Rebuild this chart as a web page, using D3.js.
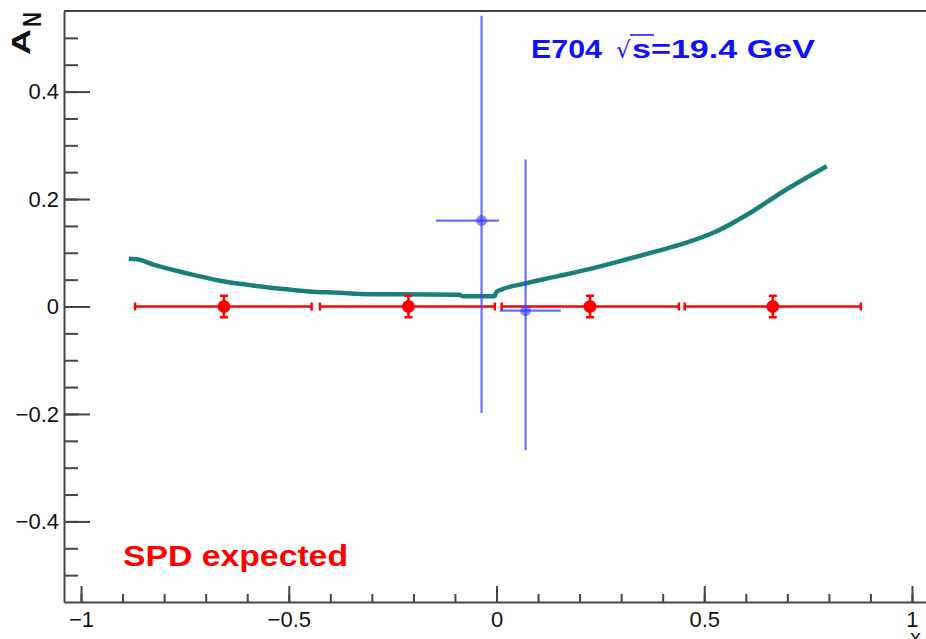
<!DOCTYPE html>
<html lang="en">
<head>
	<meta charset="utf-8">
	<title>A_N vs x: E704 and SPD expected</title>
	<script src="https://d3js.org/d3.v7.min.js"></script>
	<style type="text/css">
		body { margin: 0; background: #fff; }
		.axis path,
		.axis line {
			fill: none;
			stroke: #444;
			stroke-width: 2px;
		}
		.axis text {
			font-family: "Liberation Sans", Arial, sans-serif;
			font-size: 22px;
			fill: #111;
		}
	</style>
</head>
<body>
<script type="text/javascript">

	// Model curve (teal line)
	var curveX = [-0.885, -0.865, -0.826, -0.746, -0.665, -0.586, -0.505, -0.433, -0.393, -0.304,
	              -0.232, -0.09, -0.08, -0.005, 0.0, 0.01, 0.064, 0.145, 0.225, 0.305,
	              0.386, 0.45, 0.53, 0.61, 0.69, 0.795];
	var curveY = [0.089, 0.088, 0.078, 0.062, 0.048, 0.039, 0.032, 0.027, 0.026, 0.023,
	              0.023, 0.022, 0.019, 0.019, 0.027, 0.031, 0.042, 0.056, 0.070, 0.086,
	              0.103, 0.117, 0.140, 0.174, 0.214, 0.261];

	// SPD expected points (red)
	var spdX    = [-0.656, -0.212, 0.225, 0.665];
	var spdXLow = [-0.870, -0.425, 0.0125, 0.453];
	var spdXHigh= [-0.445, -0.004, 0.439, 0.877];
	var spdY    = [0, 0, 0, 0];
	var spdErr  = [0.02, 0.02, 0.02, 0.02];

	// E704 data points (blue)
	var e704X     = [-0.036, 0.070];
	var e704XLow  = [-0.146, 0.008];
	var e704XHigh = [0.006, 0.155];
	var e704Y     = [0.160, -0.0075];
	var e704ErrUp = [0.381, 0.281];
	var e704ErrDn = [0.358, 0.260];

	// Tick values
	var xMajor = [-1, -0.5, 0, 0.5, 1];
	var yMajor = [-0.4, -0.2, 0, 0.2, 0.4];
	var xMinor = d3.range(-10, 11).map(function(i) { return i / 10; });
	var yMinor = d3.range(-10, 11).map(function(i) { return i / 20; });

	// Canvas and frame
	var width = 926, height = 639;
	var frame = {left: 64, right: 929, top: 11, bottom: 602};

	var svg = d3.select("body")
				.append("svg")
				.attr("width", width)
				.attr("height", height);

	var xScale = d3.scaleLinear()
				.domain([-1.041, 1.041])
				.range([frame.left, frame.right]);

	var yScale = d3.scaleLinear()
				.domain([-0.55, 0.55])
				.range([frame.bottom, frame.top]);

	// Top frame line
	svg.append("line")
		.attr("x1", frame.left).attr("x2", frame.right)
		.attr("y1", frame.top).attr("y2", frame.top)
		.attr("stroke", "#444")
		.attr("stroke-width", 2);

	// Minor ticks first (no labels, no domain)
	svg.append("g")
		.attr("class", "axis")
		.attr("transform", "translate(0," + frame.bottom + ")")
		.call(d3.axisBottom(xScale).tickValues(xMinor).tickSize(-8).tickFormat(""))
		.call(function(g) { g.select(".domain").remove(); });

	svg.append("g")
		.attr("class", "axis")
		.attr("transform", "translate(" + frame.left + ",0)")
		.call(d3.axisLeft(yScale).tickValues(yMinor).tickSize(-14).tickFormat(""))
		.call(function(g) { g.select(".domain").remove(); });

	// Major axes
	var fmt = function(d) { return d === 0 ? "0" : d3.format("")(d); };

	svg.append("g")
		.attr("class", "axis")
		.attr("transform", "translate(0," + frame.bottom + ")")
		.call(d3.axisBottom(xScale).tickValues(xMajor).tickSize(-16).tickSizeOuter(0)
				.tickPadding(9).tickFormat(fmt));

	svg.append("g")
		.attr("class", "axis")
		.attr("transform", "translate(" + frame.left + ",0)")
		.call(d3.axisLeft(yScale).tickValues(yMajor).tickSize(-26).tickSizeOuter(0)
				.tickPadding(5).tickFormat(fmt));

	svg.selectAll(".axis text")
		.attr("font-family", "'Liberation Sans', Arial, sans-serif")
		.attr("font-size", 22);

	// Model curve
	var curve = curveX.map(function(x, i) { return [x, curveY[i]]; });
	svg.append("path")
		.datum(curve)
		.attr("fill", "none")
		.attr("stroke", "#1b7f79")
		.attr("stroke-width", 4.5)
		.attr("stroke-linejoin", "round")
		.attr("d", d3.line()
			.curve(d3.curveMonotoneX)
			.x(function(d) { return xScale(d[0]); })
			.y(function(d) { return yScale(d[1]); }));

	// SPD expected points
	var red = "#ff0000";
	var spd = svg.append("g").selectAll("g")
		.data(spdX.map(function(x, i) {
			return {x: x, lo: spdXLow[i], hi: spdXHigh[i], y: spdY[i], e: spdErr[i]};
		}))
		.enter().append("g")
		.attr("stroke", red)
		.attr("stroke-width", 2.5);

	spd.append("line")
		.attr("x1", function(d) { return xScale(d.lo); })
		.attr("x2", function(d) { return xScale(d.hi); })
		.attr("y1", function(d) { return yScale(d.y); })
		.attr("y2", function(d) { return yScale(d.y); });
	spd.append("line")
		.attr("x1", function(d) { return xScale(d.lo); })
		.attr("x2", function(d) { return xScale(d.lo); })
		.attr("y1", function(d) { return yScale(d.y) - 4; })
		.attr("y2", function(d) { return yScale(d.y) + 4; });
	spd.append("line")
		.attr("x1", function(d) { return xScale(d.hi); })
		.attr("x2", function(d) { return xScale(d.hi); })
		.attr("y1", function(d) { return yScale(d.y) - 4; })
		.attr("y2", function(d) { return yScale(d.y) + 4; });
	spd.append("line")
		.attr("x1", function(d) { return xScale(d.x); })
		.attr("x2", function(d) { return xScale(d.x); })
		.attr("y1", function(d) { return yScale(d.y + d.e); })
		.attr("y2", function(d) { return yScale(d.y - d.e); });
	spd.append("line")
		.attr("x1", function(d) { return xScale(d.x) - 4; })
		.attr("x2", function(d) { return xScale(d.x) + 4; })
		.attr("y1", function(d) { return yScale(d.y + d.e); })
		.attr("y2", function(d) { return yScale(d.y + d.e); });
	spd.append("line")
		.attr("x1", function(d) { return xScale(d.x) - 4; })
		.attr("x2", function(d) { return xScale(d.x) + 4; })
		.attr("y1", function(d) { return yScale(d.y - d.e); })
		.attr("y2", function(d) { return yScale(d.y - d.e); });
	spd.append("circle")
		.attr("cx", function(d) { return xScale(d.x); })
		.attr("cy", function(d) { return yScale(d.y); })
		.attr("r", 6.5)
		.attr("stroke", "none")
		.attr("fill", red);

	// E704 points (semi-transparent blue)
	var blue = "rgba(60,60,255,0.75)";
	var e704 = svg.append("g").selectAll("g")
		.data(e704X.map(function(x, i) {
			return {x: x, lo: e704XLow[i], hi: e704XHigh[i], y: e704Y[i], up: e704ErrUp[i], dn: e704ErrDn[i]};
		}))
		.enter().append("g")
		.attr("stroke", blue)
		.attr("stroke-width", 2.2);

	e704.append("line")
		.attr("x1", function(d) { return xScale(d.lo); })
		.attr("x2", function(d) { return xScale(d.hi); })
		.attr("y1", function(d) { return yScale(d.y); })
		.attr("y2", function(d) { return yScale(d.y); });
	e704.append("line")
		.attr("x1", function(d) { return xScale(d.x); })
		.attr("x2", function(d) { return xScale(d.x); })
		.attr("y1", function(d) { return yScale(d.y + d.up); })
		.attr("y2", function(d) { return yScale(d.y - d.dn); });
	e704.append("circle")
		.attr("cx", function(d) { return xScale(d.x); })
		.attr("cy", function(d) { return yScale(d.y); })
		.attr("r", 5.5)
		.attr("stroke", "none")
		.attr("fill", "rgba(60,60,255,0.6)");

	// Labels
	var font = "'Liberation Sans', Arial, sans-serif";

	svg.append("text")
		.attr("x", 123).attr("y", 566)
		.attr("font-family", font).attr("font-weight", "bold").attr("font-size", 29)
		.attr("textLength", 225).attr("lengthAdjust", "spacingAndGlyphs")
		.attr("fill", red)
		.text("SPD expected");

	var labelBlue = "#1010ff";
	svg.append("text")
		.attr("x", 531).attr("y", 58)
		.attr("font-family", font).attr("font-weight", "bold").attr("font-size", 25)
		.attr("textLength", 71).attr("lengthAdjust", "spacingAndGlyphs")
		.attr("fill", labelBlue)
		.text("E704");
	svg.append("text")
		.attr("x", 616).attr("y", 58)
		.attr("font-family", "'DejaVu Sans', sans-serif").attr("font-size", 23)
		.attr("fill", labelBlue)
		.text("\u221A");
	svg.append("line")
		.attr("x1", 630).attr("x2", 654)
		.attr("y1", 35).attr("y2", 35)
		.attr("stroke", labelBlue).attr("stroke-width", 1.5);
	svg.append("text")
		.attr("x", 632).attr("y", 58)
		.attr("font-family", font).attr("font-weight", "bold").attr("font-size", 25)
		.attr("textLength", 183).attr("lengthAdjust", "spacingAndGlyphs")
		.attr("fill", labelBlue)
		.text("s=19.4 GeV");

	// Y axis title A_N (rotated)
	svg.append("text")
		.attr("transform", "translate(30,55) rotate(-90)")
		.attr("font-family", font).attr("font-weight", "bold").attr("font-size", 25)
		.attr("textLength", 26).attr("lengthAdjust", "spacingAndGlyphs")
		.attr("fill", "#111")
		.text("A");
	svg.append("text")
		.attr("transform", "translate(41,27) rotate(-90)")
		.attr("font-family", font).attr("font-weight", "bold").attr("font-size", 25)
		.attr("textLength", 15).attr("lengthAdjust", "spacingAndGlyphs")
		.attr("fill", "#111")
		.text("N");

	// X axis title (mostly off-canvas)
	svg.append("text")
		.attr("x", 910).attr("y", 645)
		.attr("font-family", font).attr("font-size", 22)
		.attr("fill", "#111")
		.text("x");

</script>
</body>
</html>
